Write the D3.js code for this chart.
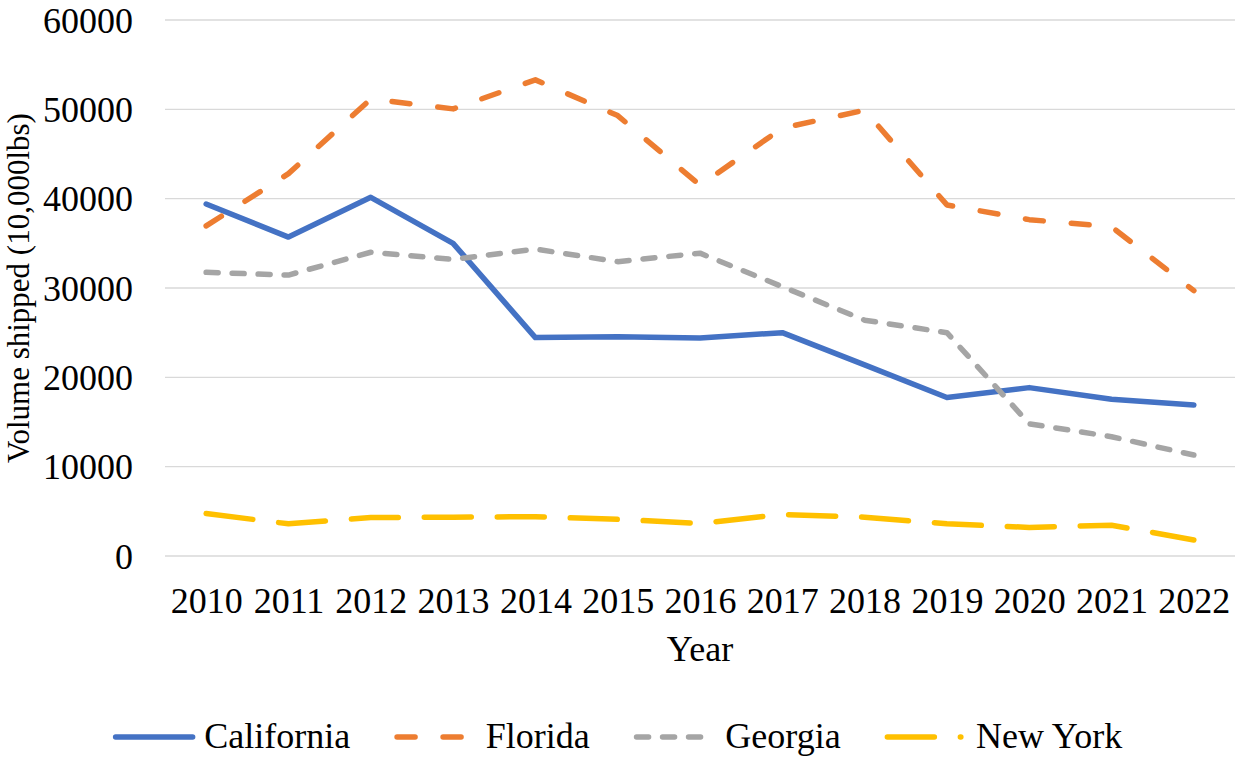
<!DOCTYPE html>
<html>
<head>
<meta charset="utf-8">
<script src="https://cdn.jsdelivr.net/npm/d3@7"></script>
<style>
  html, body { margin: 0; padding: 0; background: #fff; }
  svg { display: block; }
  text { font-family: "Liberation Serif", "Times New Roman", serif; fill: #000; }
</style>
</head>
<body>
<svg id="chart" width="1235" height="759"></svg>
<script>
const years = ["2010","2011","2012","2013","2014","2015","2016","2017","2018","2019","2020","2021","2022"];
const yTicks = [0, 10000, 20000, 30000, 40000, 50000, 60000];
const california = [39400, 35700, 40150, 35000, 24450, 24550, 24400, 25000, 21400, 17750, 18850, 17550, 16900];
const florida    = [36950, 42800, 51150, 50050, 53300, 49300, 41500, 47900, 49900, 39300, 37650, 36850, 29700];
const georgia    = [31750, 31450, 34000, 33200, 34350, 32950, 33900, 30150, 26400, 25000, 14800, 13350, 11300];
const newYork    = [4750, 3600, 4300, 4350, 4400, 4100, 3650, 4650, 4350, 3600, 3200, 3450, 1800];
const seriesNames = ["California", "Florida", "Georgia", "New York"];
const seriesValues = [california, florida, georgia, newYork];
const seriesColors = ["#4472C4", "#ED7D31", "#A5A5A5", "#FFC000"];
const seriesDashes = [null, "18,28", "12,14", "47,26"];
const yTitle = "Volume shipped (10,000lbs)";
const xTitle = "Year";

const svg = d3.select("#chart");
const pLeft = 165, pRight = 1235, pTop = 20, pBottom = 556;

const x = d3.scalePoint().domain(years).range([pLeft, pRight]).padding(0.5);
const y = d3.scaleLinear().domain([0, 60000]).range([pBottom, pTop]);

// gridlines
svg.append("g").selectAll("line").data(yTicks).join("line")
  .attr("x1", pLeft).attr("x2", pRight)
  .attr("y1", d => y(d)).attr("y2", d => y(d))
  .attr("stroke", "#D9D9D9").attr("stroke-width", 1.4);

// y axis labels
const yAxis = d3.axisLeft(y).tickValues(yTicks).tickSize(0).tickPadding(0).tickFormat(d3.format("d"));
const gy = svg.append("g").attr("transform", "translate(133,0)").call(yAxis);
gy.select(".domain").remove();
gy.selectAll("text").attr("font-size", 36).attr("font-family", "Liberation Serif")
  .attr("fill", "#000").attr("dy", null).attr("y", 12).attr("x", 0);

// x axis labels
const xAxis = d3.axisBottom(x).tickSize(0).tickPadding(0);
const gx = svg.append("g").attr("transform", "translate(0,613)").call(xAxis);
gx.select(".domain").remove();
gx.selectAll("text").attr("font-size", 36).attr("font-family", "Liberation Serif")
  .attr("fill", "#000").attr("dy", null).attr("y", 0);

// titles
svg.append("text").attr("x", (pLeft + pRight) / 2).attr("y", 661)
  .attr("text-anchor", "middle").attr("font-size", 36).text(xTitle);
svg.append("text").attr("transform", `translate(29,${(pTop + pBottom) / 2}) rotate(-90)`)
  .attr("text-anchor", "middle").attr("font-size", 31).text(yTitle);

// lines
const line = d3.line().x((d, i) => x(years[i])).y(d => y(d));
seriesValues.forEach((vals, k) => {
  svg.append("path").datum(vals)
    .attr("d", line)
    .attr("fill", "none")
    .attr("stroke", seriesColors[k])
    .attr("stroke-width", 5.5)
    .attr("stroke-linejoin", "round")
    .attr("stroke-linecap", "round")
    .attr("stroke-dasharray", seriesDashes[k]);
});

// legend
const lg = svg.append("g");
const sampleLen = 77, sampleGap = 9, itemGap = 44, ly = 737;
const items = seriesNames.map((name, k) => {
  const g = lg.append("g");
  const t = g.append("text").attr("font-size", 36).attr("y", ly + 11).text(name);
  return { g, t, w: t.node().getComputedTextLength(), k };
});
const total = items.reduce((s, it) => s + sampleLen + 5.5 + sampleGap + it.w, 0) + itemGap * (items.length - 1);
let cx = 617.5 - total / 2;
items.forEach(it => {
  const x0 = cx + 2.75;
  it.g.insert("line", "text")
    .attr("x1", x0).attr("x2", x0 + (it.k === 3 ? 73.5 : sampleLen))
    .attr("y1", ly).attr("y2", ly)
    .attr("stroke", seriesColors[it.k]).attr("stroke-width", 5.5)
    .attr("stroke-linecap", "round")
    .attr("stroke-dasharray", seriesDashes[it.k]);
  it.t.attr("x", cx + sampleLen + 5.5 + sampleGap);
  cx += sampleLen + 5.5 + sampleGap + it.w + itemGap;
});
</script>
</body>
</html>
